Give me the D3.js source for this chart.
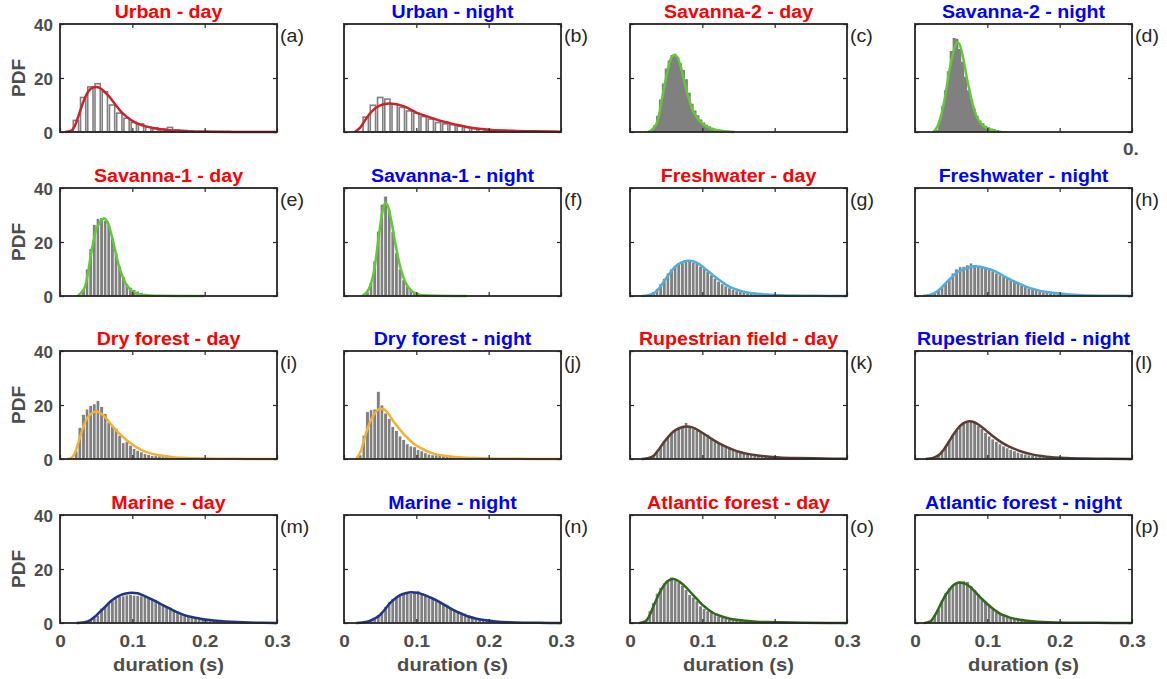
<!DOCTYPE html>
<html>
<head>
<meta charset="utf-8">
<script src="https://cdnjs.cloudflare.com/ajax/libs/d3/7.8.5/d3.min.js"></script>
<style>
  body { margin: 0; background: #fff; }
  text { font-family: "Liberation Sans", Arial, Helvetica, sans-serif; }
</style>
</head>
<body>
<script>
// panel labels + titles
const panelIds = ["a","b","c","d","e","f","g","h","i","j","k","l","m","n","o","p"];
const panelTitles = ["Urban - day","Urban - night","Savanna-2 - day","Savanna-2 - night",
  "Savanna-1 - day","Savanna-1 - night","Freshwater - day","Freshwater - night",
  "Dry forest - day","Dry forest - night","Rupestrian field - day","Rupestrian field - night",
  "Marine - day","Marine - night","Atlantic forest - day","Atlantic forest - night"];
const fitColors = ["#cc2229","#cc2229","#62c936","#62c936","#62c936","#62c936","#4eaed9","#4eaed9",
  "#f2b134","#f2b134","#5a3d35","#5a3d35","#1f3685","#1f3685","#2f6a1c","#2f6a1c"];
const barStyles = ["hollow","hollow","solid","solid","edged","edged","edged","edged",
  "edged","edged","edged","edged","edged","edged","edged","edged"];

const xTicks = [0, 0.1, 0.2, 0.3];
const yTicks = [0, 20, 40];

// histogram: first bin edge and bin width, then bar heights
const binStarts = [0.017, 0.025, 0.024, 0.024, 0.030, 0.030, 0.015, 0.015,
  0.020, 0.020, 0.015, 0.015, 0.025, 0.015, 0.010, 0.010];
const binWidths = [0.01, 0.01, 0.004, 0.004, 0.005, 0.005, 0.005, 0.005,
  0.005, 0.005, 0.005, 0.005, 0.005, 0.005, 0.005, 0.005];

const histA = [4.3,12.8,16.7,17.9,14.9,10,7,5.1,3.5,3,1.8,1.5,1.1,1.7,0.8,0.6,0.4,0.3,0.3,0.2,0.2,0.2,0.1,0.1,0.1,0.1,0.1,0.1];
const histB = [5.5,9.9,12.8,12.2,10.4,9.1,7.8,7,5.7,4.8,3.5,3,2.7,2.1,1.7,1.3,1.1,0.85,0.7,0.6,0.5,0.4,0.4,0.3,0.3,0.2,0.2];
const histC = [0.3,0.8,2.5,6,12,18,23.5,26.5,28.5,29,27.8,25.5,23,19.5,14.5,10.5,8,6.2,4.6,3.5,2.7,2.1,1.6,1.2,1.0,0.8,0.6,0.5,0.3,0.2];
const histD = [0.2,0.8,4,9.5,15.5,22.5,30,34.8,34.5,30.7,26,20.5,15.5,12,8.6,6,4.3,3.2,2.3,1.8,1.3,1.0,0.7,0.5,0.3,0.2];
const histE = [2.5,10,17.5,26.5,28.7,29,28,26.5,21.5,16,11,7.2,4.5,3.2,2.4,1.8,1.3,0.9,0.6,0.45,0.3,0.2,0.15,0.1];
const histF = [1.5,5,13,24,34,37,32,24,16,10,6,3.8,2.5,1.7,1.2,0.8,0.5,0.35,0.25,0.15];
const histG = [0.1,0.3,0.8,1.6,2.8,4.5,6.5,8.5,10,11.3,12.3,12.8,13.2,12.9,12.4,12,11,10.2,9,7.8,6.6,5.5,4.5,3.7,3,2.4,1.9,1.6,1.3,1.1,0.9,0.8,0.7,0.6,0.5,0.4,0.35,0.3,0.25,0.25,0.2,0.2,0.15,0.15,0.15,0.1,0.1,0.1,0.1,0.1,0.05,0.05,0.05,0.05,0.05,0.05,0.05];
const histH = [0.2,0.5,1.2,2.2,3.3,4.8,6.5,8.5,10,10.8,11,11.5,12.2,11.5,11,10.7,10.4,10,9.2,8.5,7.8,7.2,6.5,6,5.5,4.7,4,3.4,2.8,2.4,2,1.7,1.5,1.3,1.1,0.9,0.8,0.7,0.6,0.5,0.45,0.4,0.35,0.3,0.25,0.2,0.2,0.15,0.15,0.1,0.1,0.1,0.1,0.05,0.05,0.05,0.05];
const histI = [3,11.6,16.5,18.5,19.8,20.4,21.6,19.4,16.8,13.7,12.1,11.4,8.8,6,6.4,5.1,3.9,3.2,2.6,2,1.6,1.3,1.2,1.1,0.9,0.8,0.7,0.6,0.6,0.5,0.5,0.4,0.4,0.3,0.3,0.3,0.4,0.2,0.2,0.2,0.15,0.15,0.1,0.1,0.1,0.2,0.1,0.1,0.1,0.05,0.05,0.05,0.1,0.05,0.05,0.05];
const histJ = [1.5,8.8,17.5,18.2,18.5,25,20,17,15,12,10.5,8.5,7.2,5.6,4.8,4.5,3.5,3,2.3,1.8,1.5,1.5,1.8,1.2,1.0,0.9,0.8,0.7,0.6,0.6,0.5,0.5,0.4,0.4,0.35,0.3,0.3,0.2,0.2,0.15,0.15,0.1,0.1,0.2,0.1,0.1,0.1,0.05,0.05,0.05,0.05,0.05,0.05,0.05,0.05,0.05];
const histK = [0.1,0.3,0.8,1.7,3,4.8,6.3,8.2,9.8,11,11.8,12.4,13.5,12,11.2,10.6,10,9.6,9,8,7,6.2,5.6,5,4.4,3.8,3.3,2.9,2.5,2.2,1.9,1.6,1.4,1.2,1.1,1,0.9,0.8,0.7,0.6,0.55,0.5,0.45,0.4,0.35,0.3,0.3,0.25,0.2,0.2,0.15,0.15,0.1,0.1,0.1,0.05,0.05];
const histL = [0.1,0.3,0.8,1.6,3,4.8,6.8,9,10.8,12.3,13.3,14,14.2,13.5,12.3,11.2,9.8,8.5,7.4,6.5,5.6,4.8,4.1,3.5,3,2.5,2.1,1.8,1.5,1.3,1.1,0.9,0.8,0.7,0.6,0.5,0.45,0.4,0.35,0.3,0.25,0.2,0.2,0.15,0.15,0.1,0.1,0.1,0.1,0.1,0.05,0.05,0.05,0.05,0.05,0.05,0.05];
const histM = [0.2,0.4,0.8,1.3,2,2.9,5.5,6.2,7.2,8.2,9,9.8,10,10.4,10.5,10.3,10.2,10,9.8,9.3,9,8.6,7.6,6.8,6.3,5.8,5,4.3,3.8,3.3,2.7,2.3,1.9,1.7,1.4,1.2,1,0.9,0.75,0.6,0.5,0.45,0.4,0.3,0.25,0.2,0.2,0.15,0.1,0.1,0.1,0.05,0.05,0.05,0.05];
const histN = [0.1,0.2,0.4,0.7,1.2,2,3,4.3,6,7.8,9,9.8,10.2,10.7,10.9,10.9,11.2,11.9,11,10.2,9.3,9,8.4,7.9,7.3,6.8,5.8,5,4.4,4,3.6,3,2.4,2,1.6,1.3,1.1,0.9,0.75,0.6,0.5,0.4,0.35,0.3,0.25,0.2,0.2,0.15,0.1,0.1,0.1,0.05,0.05,0.05,0.05,0.05,0.05];
const histO = [0.1,0.4,1.5,4.5,7.5,11,13.2,14.8,16,17,15.8,15.2,14,12.4,10.5,9.6,8.2,6.3,5.3,4.5,3.8,3.1,2.6,2.1,1.8,1.5,1.3,1.1,0.9,0.8,0.7,0.6,0.5,0.45,0.4,0.35,0.3,0.25,0.2,0.2,0.15,0.15,0.1,0.1,0.1,0.1,0.05,0.05,0.05,0.05,0.05,0.05,0.05,0.05,0.05,0.05,0.05,0.05];
const histP = [0.1,0.3,1,2.8,5.2,8.5,11.2,13,14,15,15.6,15.6,15.3,13.8,12.3,10.8,9.4,8.1,6.8,5.6,4.5,3.6,3.1,2.6,2.1,1.8,1.6,1.3,1.1,0.9,0.8,0.7,0.6,0.5,0.4,0.35,0.3,0.25,0.2,0.2,0.15,0.1,0.1,0.1,0.05,0.05,0.05,0.05,0.05,0.05,0.05,0.05,0.05,0.05,0.05,0.05,0.05,0.05];

// fitted pdf curves, [duration, pdf]
const fitA = [[0.007,0],[0.015,0.4],[0.02,2],[0.025,5.5],[0.03,9.5],[0.035,13],[0.04,15.3],[0.045,16.4],[0.05,16.7],[0.055,16.3],[0.06,15.3],[0.065,14],[0.07,12.5],[0.078,9.6],[0.085,7.4],[0.092,5.7],[0.1,4.1],[0.11,2.8],[0.12,2],[0.13,1.4],[0.145,0.8],[0.16,0.45],[0.18,0.2],[0.2,0.1],[0.24,0.03],[0.3,0]];
const fitB = [[0.015,0],[0.022,1.5],[0.031,5.1],[0.038,7.5],[0.045,9.2],[0.055,10.3],[0.063,10.6],[0.072,10.3],[0.082,9.6],[0.09,8.6],[0.1,7.2],[0.11,6.2],[0.118,5.5],[0.128,4.6],[0.137,3.9],[0.146,3.3],[0.155,2.7],[0.166,2.1],[0.178,1.5],[0.19,1.1],[0.2,0.85],[0.22,0.55],[0.238,0.4],[0.26,0.25],[0.28,0.15],[0.3,0.1]];
const fitC = [[0.025,0],[0.03,0.8],[0.037,3.3],[0.041,7.5],[0.044,11.8],[0.0475,16.8],[0.051,21.6],[0.054,25],[0.0576,27.7],[0.0613,28.5],[0.064,28.2],[0.0668,27],[0.07,24.3],[0.0737,20.4],[0.077,16.5],[0.0806,13],[0.084,10],[0.0876,7.6],[0.092,5.5],[0.0968,3.9],[0.102,2.7],[0.108,1.7],[0.116,0.9],[0.124,0.5],[0.134,0.2],[0.144,0]];
const fitD = [[0.0253,0],[0.031,2],[0.0369,7],[0.0405,11.5],[0.0438,16.7],[0.047,22],[0.0507,27],[0.0545,31],[0.0585,33.2],[0.0615,32.5],[0.0645,30],[0.068,25.5],[0.0714,20.4],[0.075,15.8],[0.0783,11.8],[0.082,8.3],[0.0853,5.7],[0.09,3.6],[0.0945,2.3],[0.1,1.3],[0.106,0.6],[0.112,0.25],[0.118,0]];
const fitE = [[0.024,0],[0.0346,3.4],[0.038,7.5],[0.0415,13.3],[0.045,18.5],[0.0484,23],[0.052,25.8],[0.0553,27.4],[0.0608,28.7],[0.0635,28.3],[0.0668,26.8],[0.07,23.8],[0.0737,20],[0.077,16],[0.0806,12],[0.084,9],[0.0876,6.5],[0.091,4.5],[0.0945,3.2],[0.1014,1.5],[0.11,0.6],[0.124,0.2],[0.14,0.05],[0.199,0]];
const fitF = [[0.025,0],[0.035,3],[0.042,10],[0.048,22],[0.053,31],[0.057,34.5],[0.061,33],[0.066,27],[0.072,18],[0.078,10.5],[0.085,5],[0.093,2],[0.1,0.8],[0.11,0.25],[0.13,0.05],[0.17,0]];
const fitG = [[0.017,0],[0.025,0.3],[0.033,1],[0.04,2.8],[0.048,5.8],[0.055,8.4],[0.062,10.7],[0.07,12.3],[0.078,13],[0.081,13.1],[0.088,12.8],[0.095,11.9],[0.102,10.5],[0.11,8.8],[0.117,7.2],[0.124,5.8],[0.131,4.5],[0.138,3.4],[0.147,2.4],[0.157,1.6],[0.166,1.15],[0.176,0.85],[0.188,0.55],[0.2,0.36],[0.215,0.22],[0.234,0.12],[0.26,0.05],[0.3,0]];
const fitH = [[0.011,0],[0.02,0.4],[0.03,1.6],[0.037,3.2],[0.0443,5.2],[0.051,7],[0.0586,8.8],[0.066,9.8],[0.073,10.4],[0.0825,11],[0.09,10.8],[0.0968,10.4],[0.104,9.8],[0.111,9.1],[0.118,8.1],[0.125,7],[0.1325,6],[0.14,5],[0.147,4.2],[0.154,3.4],[0.163,2.6],[0.173,1.9],[0.185,1.4],[0.197,1],[0.21,0.65],[0.2255,0.36],[0.24,0.22],[0.259,0.12],[0.28,0.05],[0.3,0]];
const fitI = [[0.011,0],[0.016,0.5],[0.0205,2.1],[0.024,4.8],[0.0277,8.2],[0.031,11],[0.0348,13.7],[0.038,15.3],[0.042,16.5],[0.046,17.3],[0.05,17.6],[0.054,17.3],[0.0586,16.5],[0.063,15.3],[0.068,13.7],[0.0728,12.1],[0.0777,10.6],[0.0836,9],[0.0896,7.6],[0.0955,6.3],[0.1015,5.1],[0.108,4],[0.116,2.9],[0.125,2.1],[0.135,1.5],[0.147,1],[0.159,0.6],[0.172,0.4],[0.187,0.25],[0.22,0.1],[0.26,0.04],[0.3,0]];
const fitJ = [[0.0167,0],[0.0238,3.3],[0.0275,6.8],[0.031,10],[0.0357,13.5],[0.0405,16.1],[0.045,17.8],[0.05,18.6],[0.055,18.4],[0.0596,17.4],[0.064,15.7],[0.069,13.7],[0.075,11.7],[0.081,9.7],[0.087,8],[0.093,6.4],[0.1,5],[0.107,3.9],[0.116,2.7],[0.126,1.8],[0.138,1.2],[0.15,0.86],[0.168,0.5],[0.188,0.25],[0.22,0.1],[0.26,0.04],[0.3,0]];
const fitK = [[0.016,0],[0.024,0.3],[0.032,1],[0.039,3.2],[0.046,5.9],[0.053,8.2],[0.06,10.2],[0.068,11.4],[0.078,12],[0.087,11.6],[0.097,10.2],[0.106,8.7],[0.115,7.1],[0.124,5.7],[0.134,4.4],[0.143,3.4],[0.152,2.6],[0.163,1.9],[0.175,1.35],[0.19,0.9],[0.207,0.6],[0.23,0.38],[0.253,0.25],[0.28,0.12],[0.3,0.05]];
const fitL = [[0.015,0],[0.025,0.4],[0.033,1.5],[0.04,3.5],[0.047,6.5],[0.055,9.8],[0.062,12.2],[0.068,13.4],[0.075,14],[0.082,13.6],[0.09,12.3],[0.098,10.6],[0.106,8.8],[0.115,7],[0.125,5.3],[0.135,4],[0.147,2.8],[0.16,1.8],[0.175,1.1],[0.19,0.65],[0.21,0.35],[0.235,0.15],[0.265,0.06],[0.3,0.02]];
const fitM = [[0.023,0],[0.032,0.2],[0.0415,1],[0.048,2.3],[0.055,4.1],[0.062,5.9],[0.069,7.8],[0.076,9.2],[0.083,10.2],[0.091,10.9],[0.099,11.2],[0.107,11],[0.115,10.2],[0.124,9.1],[0.134,7.8],[0.143,6.5],[0.152,5.3],[0.161,4.1],[0.17,3.1],[0.182,2.2],[0.194,1.6],[0.207,1.1],[0.221,0.74],[0.237,0.45],[0.253,0.25],[0.275,0.1],[0.3,0.03]];
const fitN = [[0.017,0],[0.026,0.2],[0.0355,0.74],[0.042,1.6],[0.049,2.8],[0.056,4.8],[0.063,7.2],[0.07,8.9],[0.077,10.2],[0.085,11],[0.093,11.4],[0.101,11.2],[0.109,10.6],[0.118,9.6],[0.128,8.4],[0.137,7],[0.146,5.6],[0.155,4.3],[0.1645,3.2],[0.173,2.3],[0.183,1.6],[0.196,1],[0.21,0.6],[0.228,0.3],[0.247,0.12],[0.27,0.05],[0.3,0.02]];
const fitO = [[0.013,0],[0.018,0.3],[0.023,1],[0.0275,3],[0.032,5.9],[0.037,9],[0.0415,11.5],[0.046,13.6],[0.0507,15.2],[0.055,16],[0.059,16.3],[0.064,16],[0.069,15.2],[0.0735,14.2],[0.078,13.1],[0.084,11.3],[0.09,9.6],[0.0955,8],[0.101,6.5],[0.108,5],[0.115,3.7],[0.122,2.9],[0.129,2.2],[0.138,1.6],[0.147,1.2],[0.16,0.8],[0.175,0.5],[0.19,0.35],[0.207,0.25],[0.24,0.1],[0.3,0.02]];
const fitP = [[0.0124,0],[0.018,0.3],[0.023,1],[0.0285,3.3],[0.0346,6.5],[0.039,8.8],[0.0438,10.9],[0.0485,12.6],[0.053,14],[0.057,14.7],[0.0613,15],[0.066,14.8],[0.0714,14.3],[0.076,13.4],[0.0806,12.3],[0.086,10.7],[0.092,9],[0.098,7.5],[0.1037,6.2],[0.11,4.8],[0.1175,3.5],[0.124,2.7],[0.131,2],[0.14,1.45],[0.15,1],[0.162,0.65],[0.177,0.37],[0.195,0.2],[0.214,0.12],[0.25,0.05],[0.3,0.02]];

const hists = [histA,histB,histC,histD,histE,histF,histG,histH,histI,histJ,histK,histL,histM,histN,histO,histP];
const fits = [fitA,fitB,fitC,fitD,fitE,fitF,fitG,fitH,fitI,fitJ,fitK,fitL,fitM,fitN,fitO,fitP];

const WIDTH = 1167, HEIGHT = 679;
const COL_LEFT = [60, 344, 630, 915];
const ROW_TOP = [24, 188, 351, 515];
const PW = 217, PH = 108;
const SX = 1.12;            // the figure is a bit stretched sideways
const GREY_TXT = "#4d4d4d";

const svg = d3.select("body").append("svg")
    .attr("width", WIDTH)
    .attr("height", HEIGHT);

const x = d3.scaleLinear().domain([0, 0.3]).range([0, PW]);
const y = d3.scaleLinear().domain([0, 40]).range([PH, 0]);

function stretchText(g, px, py, str) {
    return g.append("text")
        .attr("transform", `translate(${px},${py}) scale(${SX},1)`)
        .text(str);
}

panelIds.forEach((id, k) => {
    const col = k % 4, row = Math.floor(k / 4);
    const g = svg.append("g")
        .attr("transform", `translate(${COL_LEFT[col]},${ROW_TOP[row]})`);

    // bars
    const start = binStarts[k], w = binWidths[k];
    const bw = x(w) - x(0);
    if (barStyles[k] === "solid") {
        // very fine bins: draw as one stepped area so no seams show
        const steps = hists[k].map((h, i) => [start + i * w, h]);
        steps.push([start + hists[k].length * w, hists[k][hists[k].length - 1]]);
        g.append("path")
            .datum(steps)
            .attr("d", d3.area()
                .x(d => x(d[0]))
                .y0(y(0))
                .y1(d => y(d[1]))
                .curve(d3.curveStepAfter))
            .attr("fill", "#808080");
    } else {
        const bars = g.append("g").selectAll("rect")
            .data(hists[k])
            .join("rect")
            .attr("y", d => y(d))
            .attr("height", d => y(0) - y(d));
        if (barStyles[k] === "hollow") {
            bars.attr("x", (d, i) => x(start + i * w) + 1)
                .attr("width", bw - 2)
                .attr("fill", "#fff")
                .attr("stroke", "#808080")
                .attr("stroke-width", 1.6);
        } else {
            bars.attr("x", (d, i) => x(start + i * w))
                .attr("width", bw)
                .attr("fill", "#808080")
                .attr("stroke", "#fff")
                .attr("stroke-width", 0.7);
        }
    }

    // fitted pdf
    const line = d3.line()
        .x(d => x(d[0]))
        .y(d => y(d[1]))
        .curve(d3.curveMonotoneX);
    g.append("path")
        .datum(fits[k])
        .attr("d", line)
        .attr("fill", "none")
        .attr("stroke", fitColors[k])
        .attr("stroke-width", 2.5);

    // inward ticks on all four sides
    const tickStyle = sel => {
        sel.select(".domain").remove();
        sel.selectAll(".tick line").attr("stroke", "#262626").attr("stroke-width", 1.2);
    };
    const bottomAx = g.append("g").attr("transform", `translate(0,${PH})`)
        .call(d3.axisBottom(x).tickValues(xTicks).tickSizeInner(-4).tickSizeOuter(0)
            .tickPadding(12).tickFormat(row === 3 ? (d => d === 0 ? "0" : d3.format(".1f")(d)) : ""));
    tickStyle(bottomAx);
    g.append("g")
        .call(d3.axisTop(x).tickValues(xTicks).tickSizeInner(-4).tickSizeOuter(0).tickFormat(""))
        .call(tickStyle);
    const leftAx = g.append("g")
        .call(d3.axisLeft(y).tickValues(yTicks).tickSizeInner(-4).tickSizeOuter(0)
            .tickPadding(7).tickFormat(col === 0 ? d3.format("d") : ""));
    tickStyle(leftAx);
    g.append("g").attr("transform", `translate(${PW},0)`)
        .call(d3.axisRight(y).tickValues(yTicks).tickSizeInner(-4).tickSizeOuter(0).tickFormat(""))
        .call(tickStyle);

    [bottomAx, leftAx].forEach(ax => ax.selectAll(".tick text")
        .attr("font-family", "'Liberation Sans', Arial, sans-serif")
        .attr("font-size", 17)
        .attr("font-weight", "bold")
        .attr("fill", GREY_TXT));
    bottomAx.selectAll(".tick text").attr("transform", `scale(${SX},1)`);
    leftAx.selectAll(".tick text").attr("dy", "0.36em");

    // box
    g.append("rect")
        .attr("width", PW)
        .attr("height", PH)
        .attr("fill", "none")
        .attr("stroke", "#262626")
        .attr("stroke-width", 1.8);

    // title
    stretchText(g, PW / 2, -6, panelTitles[k])
        .attr("text-anchor", "middle")
        .attr("font-size", 17.5)
        .attr("font-weight", "bold")
        .attr("fill", k % 2 === 0 ? "#ff0000" : "#0000ff");

    // panel letter
    stretchText(g, PW + 3, 18, `(${id})`)
        .attr("font-size", 17.5)
        .attr("fill", "#262626");

    if (col === 0) {
        g.append("text")
            .attr("transform", `translate(-35,${PH / 2}) rotate(-90)`)
            .attr("text-anchor", "middle")
            .attr("font-size", 19)
            .attr("font-weight", "bold")
            .attr("fill", GREY_TXT)
            .text("PDF");
    }
    if (row === 3) {
        stretchText(g, PW / 2, PH + 48, "duration (s)")
            .attr("text-anchor", "middle")
            .attr("font-size", 18)
            .attr("font-weight", "bold")
            .attr("fill", GREY_TXT);
    }
});

// clipped tick label left over in the source figure
stretchText(svg, 1123, 155, "0.")
    .attr("font-size", 17)
    .attr("font-weight", "bold")
    .attr("fill", GREY_TXT);
</script>
</body>
</html>
